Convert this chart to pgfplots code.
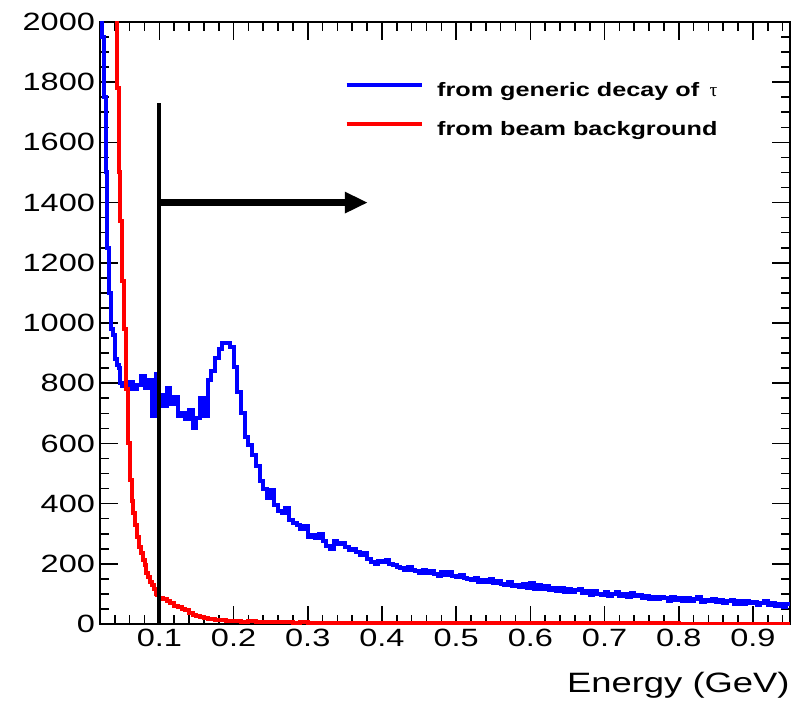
\documentclass[border=0pt]{standalone}
\usepackage{pgfplots}
\pgfplotsset{compat=1.18}
\usetikzlibrary{arrows.meta}
\usepackage{fontspec}
\setmainfont{Liberation Sans}[FakeStretch=1.3]
\newfontfamily\taufont{Liberation Serif}
\definecolor{rootblue}{RGB}{0,0,255}
\definecolor{rootred}{RGB}{255,0,0}
\begin{document}
\begin{tikzpicture}
\begin{axis}[
  scale only axis, width=345pt, height=301pt,
  xmin=0.02, xmax=0.95, ymin=0, ymax=2000,
  axis line style={line width=1pt},
  xtick={0.1,0.2,0.3,0.4,0.5,0.6,0.7,0.8,0.9},
  xticklabels={0.1,0.2,0.3,0.4,0.5,0.6,0.7,0.8,0.9},
  minor xtick={0.02,0.04,0.06,0.08,0.12,0.14,0.16,0.18,0.22,0.24,0.26,0.28,0.32,0.34,0.36,0.38,0.42,0.44,0.46,0.48,0.52,0.54,0.56,0.58,0.62,0.64,0.66,0.68,0.72,0.74,0.76,0.78,0.82,0.84,0.86,0.88,0.92,0.94},
  ytick={0,200,400,600,800,1000,1200,1400,1600,1800,2000},
  yticklabels={0,200,400,600,800,1000,1200,1400,1600,1800,2000},
  minor ytick={50,100,150,250,300,350,450,500,550,650,700,750,850,900,950,1050,1100,1150,1250,1300,1350,1450,1500,1550,1650,1700,1750,1850,1900,1950},
  tick align=inside, xtick pos=both, ytick pos=both,
  xticklabel pos=lower, yticklabel pos=left,
  major tick length=9pt, minor tick length=4.5pt,
  every tick/.style={black, line width=0.8pt},
  ticklabel style={font=\fontsize{12.5}{14}\selectfont},
  yticklabel style={xshift=1pt},
  xticklabel style={yshift=1pt},
  clip mode=individual,
  legend style={draw=none, fill=none, at={(rel axis cs:0.355,0.8513)}, anchor=west,
    inner sep=0pt, outer sep=0pt, column sep=7pt, row sep=10.5pt,
    nodes={inner sep=0pt, text height=7pt, text depth=2pt, font=\fontsize{9.7}{11}\selectfont\bfseries}},
  legend cell align=left,
  legend image code/.code={\draw[#1, line width=1.6pt] (0pt,3.5pt) -- (37.5pt,3.5pt);},
]
\addplot[const plot mark left, rootblue, line width=2pt] coordinates {
(0.0200,2600) (0.0225,1950) (0.0250,1750) (0.0275,1500) (0.0300,1250) (0.0325,1100)
(0.0350,980) (0.0375,960) (0.0400,880) (0.0425,860) (0.0450,850) (0.0475,800)
(0.050,790) (0.055,780) (0.060,805) (0.065,780) (0.070,795) (0.075,825) (0.080,785)
(0.085,810) (0.090,690) (0.095,830) (0.100,760) (0.105,725) (0.110,785) (0.115,730)
(0.120,755) (0.125,690) (0.130,700) (0.135,680) (0.140,710) (0.145,650) (0.150,685)
(0.155,750) (0.160,690) (0.165,810) (0.170,840) (0.175,885) (0.180,915) (0.185,935)
(0.190,935) (0.195,920) (0.200,855) (0.205,770) (0.210,700) (0.215,620) (0.220,595)
(0.225,560) (0.230,525) (0.235,475) (0.240,450) (0.245,420) (0.250,445) (0.255,395)
(0.260,375) (0.265,370) (0.270,385) (0.275,345) (0.280,335) (0.285,330) (0.290,315)
(0.295,325) (0.300,290) (0.305,295) (0.310,285) (0.315,300) (0.320,275) (0.325,260)
(0.330,250) (0.335,275) (0.340,265) (0.345,270) (0.350,255) (0.355,245) (0.360,250)
(0.365,240) (0.370,230) (0.375,235) (0.380,215) (0.385,205) (0.390,200) (0.395,210)
(0.400,205) (0.405,213) (0.410,200) (0.415,195) (0.420,190) (0.425,185) (0.430,180)
(0.435,190) (0.440,178) (0.445,175) (0.450,168) (0.455,180) (0.460,170) (0.465,176)
(0.470,166) (0.475,160) (0.480,172) (0.485,164) (0.490,174) (0.495,158) (0.500,156)
(0.505,164) (0.510,153) (0.515,148) (0.520,146) (0.525,154) (0.530,140) (0.535,147)
(0.540,138) (0.545,148) (0.550,136) (0.555,144) (0.560,133) (0.565,130) (0.570,140)
(0.575,126) (0.580,131) (0.585,122) (0.590,134) (0.595,120) (0.600,137) (0.605,118)
(0.610,128) (0.615,116) (0.620,126) (0.625,113) (0.630,121) (0.635,110) (0.640,120)
(0.645,108) (0.650,115) (0.655,106) (0.660,113) (0.665,118) (0.670,103) (0.675,111)
(0.680,98) (0.685,109) (0.690,101) (0.695,96) (0.700,107) (0.705,94) (0.710,100)
(0.715,106) (0.720,93) (0.725,99) (0.730,90) (0.735,102) (0.740,93) (0.745,97)
(0.750,86) (0.755,93) (0.760,84) (0.765,91) (0.770,82) (0.775,89) (0.780,85)
(0.785,78) (0.790,89) (0.795,81) (0.800,87) (0.805,78) (0.810,85) (0.815,76)
(0.820,82) (0.825,89) (0.830,74) (0.835,81) (0.840,77) (0.845,83) (0.850,72)
(0.855,79) (0.860,70) (0.865,77) (0.870,81) (0.875,68) (0.880,75) (0.885,66)
(0.890,77) (0.895,69) (0.900,73) (0.905,64) (0.910,71) (0.915,75) (0.920,63)
(0.925,69) (0.930,60) (0.935,67) (0.940,58) (0.945,65) (0.950,65)
};
\addlegendentry{from generic decay of \,{\taufont\mdseries τ}}
\addplot[const plot mark left, rootred, line width=2pt] coordinates {
(0.0200,4000) (0.0225,3600) (0.0250,3200) (0.0275,2900) (0.0300,2700) (0.0325,2500)
(0.0350,2300) (0.0375,2150) (0.0400,2050) (0.0425,1780) (0.0450,1500) (0.0475,1340)
(0.0500,1140) (0.0525,980) (0.0550,780) (0.0575,600) (0.0600,480) (0.0625,410)
(0.0650,370) (0.0675,330) (0.0700,290) (0.0725,255) (0.0750,235) (0.0775,213)
(0.0800,195) (0.0825,170) (0.0850,155) (0.0875,140) (0.0900,130) (0.0925,115)
(0.0950,100) (0.0975,95) (0.100,88) (0.105,82) (0.110,75) (0.115,70) (0.120,60)
(0.125,55) (0.130,50) (0.135,45) (0.140,35) (0.145,30) (0.150,25) (0.155,22)
(0.160,20) (0.165,18) (0.170,16) (0.175,14) (0.180,13) (0.185,12) (0.190,11)
(0.195,10) (0.200,9) (0.210,8) (0.220,9) (0.230,7) (0.240,8) (0.250,6) (0.260,7)
(0.270,6) (0.280,5) (0.290,6) (0.300,5) (0.320,4) (0.340,4) (0.360,3) (0.380,4)
(0.400,3) (0.450,3) (0.500,2) (0.600,2) (0.700,2) (0.800,1) (0.900,1) (0.950,1)
};
\addlegendentry{from beam background}
\draw[line width=2pt, black] (axis cs:0.1,0) -- (axis cs:0.1,1730);
\draw[line width=3.5pt, black, -{Triangle[length=11.5pt,width=10pt]}] (axis cs:0.0985,1400) -- (axis cs:0.381,1400);
\node[anchor=base east, font=\fontsize{14}{16}\selectfont, inner sep=0pt] at ([yshift=-34pt]rel axis cs:1,0) {Energy (GeV)};
\coordinate (bl) at (rel axis cs:-0.1449,-0.1329);
\coordinate (tr) at (rel axis cs:1.0188,1.0365);
\end{axis}
\pgfresetboundingbox
\path[use as bounding box] (bl) rectangle (tr);
\end{tikzpicture}
\end{document}
